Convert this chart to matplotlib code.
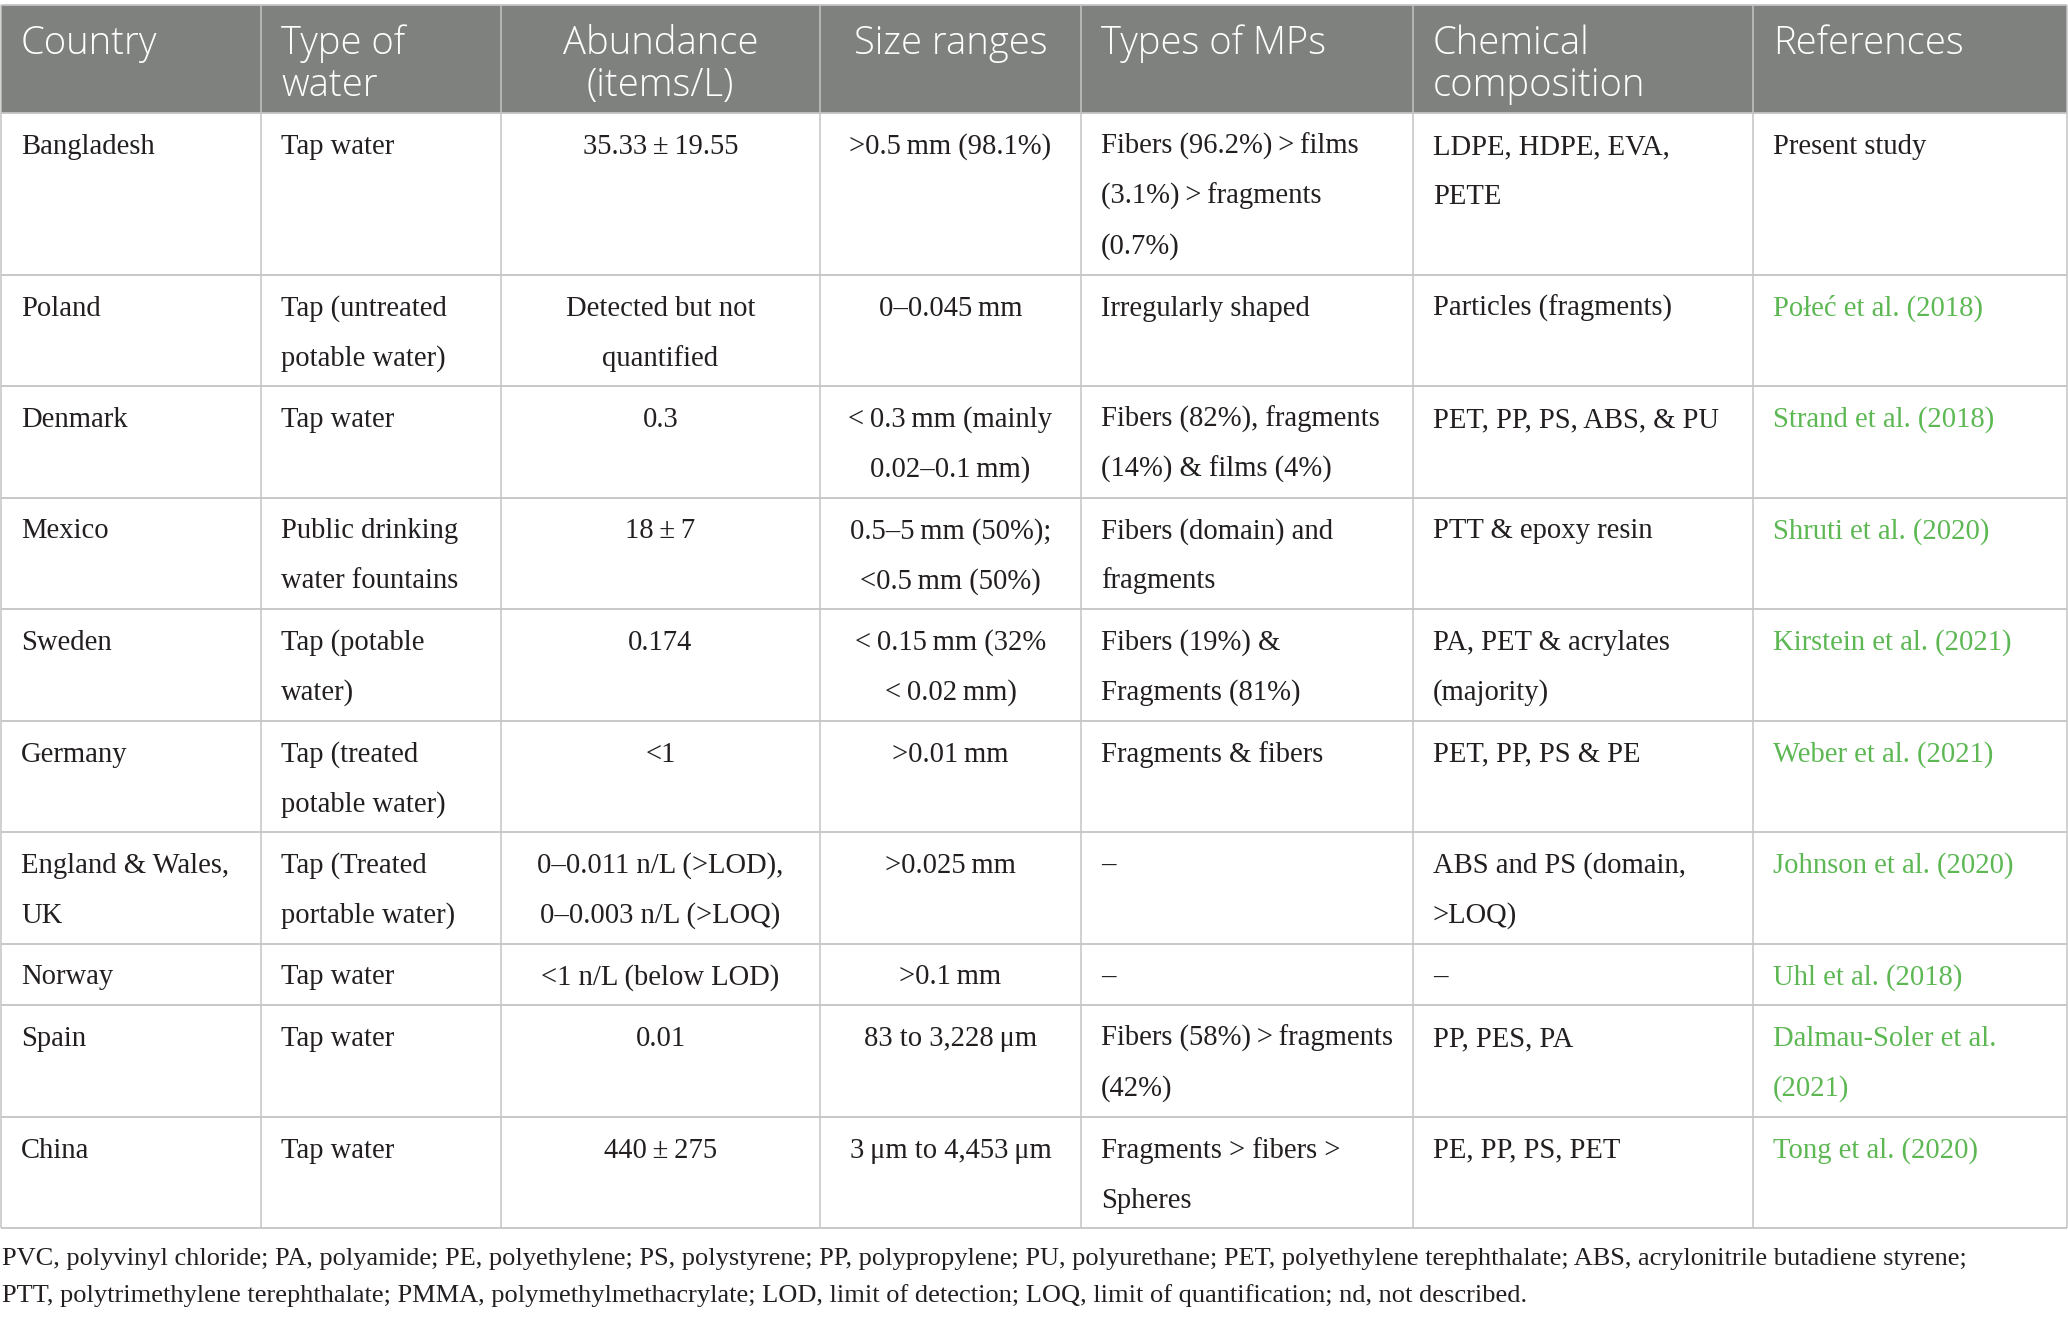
import matplotlib
matplotlib.use("Agg")
import matplotlib.pyplot as plt
from matplotlib.patches import Rectangle

W, H = 2068, 1318
TS = "\u2009"  # thin space

headers = ["Country", "Type of\nwater", "Abundance\n(items/L)", "Size ranges",
           "Types of MPs", "Chemical\ncomposition", "References"]

countries = ["Bangladesh", "Poland", "Denmark", "Mexico", "Sweden", "Germany",
             "England & Wales,\nUK", "Norway", "Spain", "China"]
water_types = ["Tap water", "Tap (untreated\npotable water)", "Tap water",
               "Public drinking\nwater fountains", "Tap (potable\nwater)",
               "Tap (treated\npotable water)", "Tap (Treated\nportable water)",
               "Tap water", "Tap water", "Tap water"]
abundance = [f"35.33{TS}±{TS}19.55", "Detected but not\nquantified", "0.3",
             f"18{TS}±{TS}7", "0.174", "<1",
             "0–0.011 n/L (>LOD),\n0–0.003 n/L (>LOQ)", "<1 n/L (below LOD)",
             "0.01", f"440{TS}±{TS}275"]
size_ranges = [f">0.5{TS}mm (98.1%)", f"0–0.045{TS}mm",
               f"<{TS}0.3{TS}mm (mainly\n0.02–0.1{TS}mm)",
               f"0.5–5{TS}mm (50%);\n<0.5{TS}mm (50%)",
               f"<{TS}0.15{TS}mm (32%\n<{TS}0.02{TS}mm)", f">0.01{TS}mm",
               f">0.025{TS}mm", f">0.1{TS}mm", f"83 to 3,228{TS}μm",
               f"3{TS}μm to 4,453{TS}μm"]
mp_types = [f"Fibers (96.2%){TS}>{TS}films\n(3.1%){TS}>{TS}fragments\n(0.7%)",
            "Irregularly shaped", "Fibers (82%), fragments\n(14%) & films (4%)",
            "Fibers (domain) and\nfragments", "Fibers (19%) &\nFragments (81%)",
            "Fragments & fibers", "–", "–",
            f"Fibers (58%){TS}>{TS}fragments\n(42%)",
            "Fragments > fibers >\nSpheres"]
chem_comp = ["LDPE, HDPE, EVA,\nPETE", "Particles (fragments)",
             "PET, PP, PS, ABS, & PU", "PTT & epoxy resin",
             "PA, PET & acrylates\n(majority)", "PET, PP, PS & PE",
             "ABS and PS (domain,\n>LOQ)", "–", "PP, PES, PA", "PE, PP, PS, PET"]
references = ["Present study", "Połeć et al. (2018)", "Strand et al. (2018)",
              "Shruti et al. (2020)", "Kirstein et al. (2021)",
              "Weber et al. (2021)", "Johnson et al. (2020)",
              "Uhl et al. (2018)", "Dalmau-Soler et al.\n(2021)",
              "Tong et al. (2020)"]

footnote = [
    "PVC, polyvinyl chloride; PA, polyamide; PE, polyethylene; PS, polystyrene; "
    "PP, polypropylene; PU, polyurethane; PET, polyethylene terephthalate; "
    "ABS, acrylonitrile butadiene styrene;",
    "PTT, polytrimethylene terephthalate; PMMA, polymethylmethacrylate; "
    "LOD, limit of detection; LOQ, limit of quantification; nd, not described.",
]

columns = [countries, water_types, abundance, size_ranges, mp_types,
           chem_comp, references]

# layout (pixels)
col_edges = [1, 261, 501, 820, 1081, 1413, 1753, 2067]
col_align = ["left", "left", "center", "center", "left", "left", "left"]
head_top, head_bot = 5, 113
line_h, row_pad, base_off = 50, 11.5, 41
pad_x = 20

HEAD_BG = "#7f817f"
GRID = "#c4c4c4"
TXT = "#231f20"
LINK = "#5db854"
SERIF = ["Liberation Serif", "DejaVu Serif"]
SANS = ["Open Sans", "DejaVu Sans"]

fig = plt.figure(figsize=(W / 100, H / 100), dpi=100)
ax = fig.add_axes([0, 0, 1, 1])
ax.set_xlim(0, W)
ax.set_ylim(H, 0)
ax.axis("off")


def text_x(c):
    if col_align[c] == "center":
        return (col_edges[c] + col_edges[c + 1]) / 2
    return col_edges[c] + pad_x


# header
ax.add_patch(Rectangle((col_edges[0], head_top), col_edges[-1] - col_edges[0],
                       head_bot - head_top, facecolor=HEAD_BG, edgecolor="none"))
for c, h in enumerate(headers):
    for i, line in enumerate(h.split("\n")):
        ax.text(text_x(c), head_top + 49 + i * 42, line, ha=col_align[c],
                va="baseline", color="white", fontsize=27.5, family=SANS,
                fontweight="light")

# body rows
row_edges = [head_bot]
for r in range(len(countries)):
    n = max(col[r].count("\n") + 1 for col in columns)
    top = row_edges[-1]
    for c, col in enumerate(columns):
        color = LINK if (c == 6 and "et al" in references[r]) else TXT
        for i, line in enumerate(col[r].split("\n")):
            ax.text(text_x(c), top + base_off + i * line_h, line,
                    ha=col_align[c], va="baseline", color=color,
                    fontsize=20.6, family=SERIF)
    row_edges.append(top + row_pad + n * line_h)

# grid
ax.hlines([head_top] + row_edges, col_edges[0], col_edges[-1], color=GRID,
          lw=1.3)
ax.vlines(col_edges, head_top, row_edges[-1], color=GRID, lw=1.1)

# footnote
for i, line in enumerate(footnote):
    ax.text(2, row_edges[-1] + 37 + i * 37, line, ha="left", va="baseline",
            color=TXT, fontsize=19, family=SERIF)

fig.savefig("out.png", dpi=100)
